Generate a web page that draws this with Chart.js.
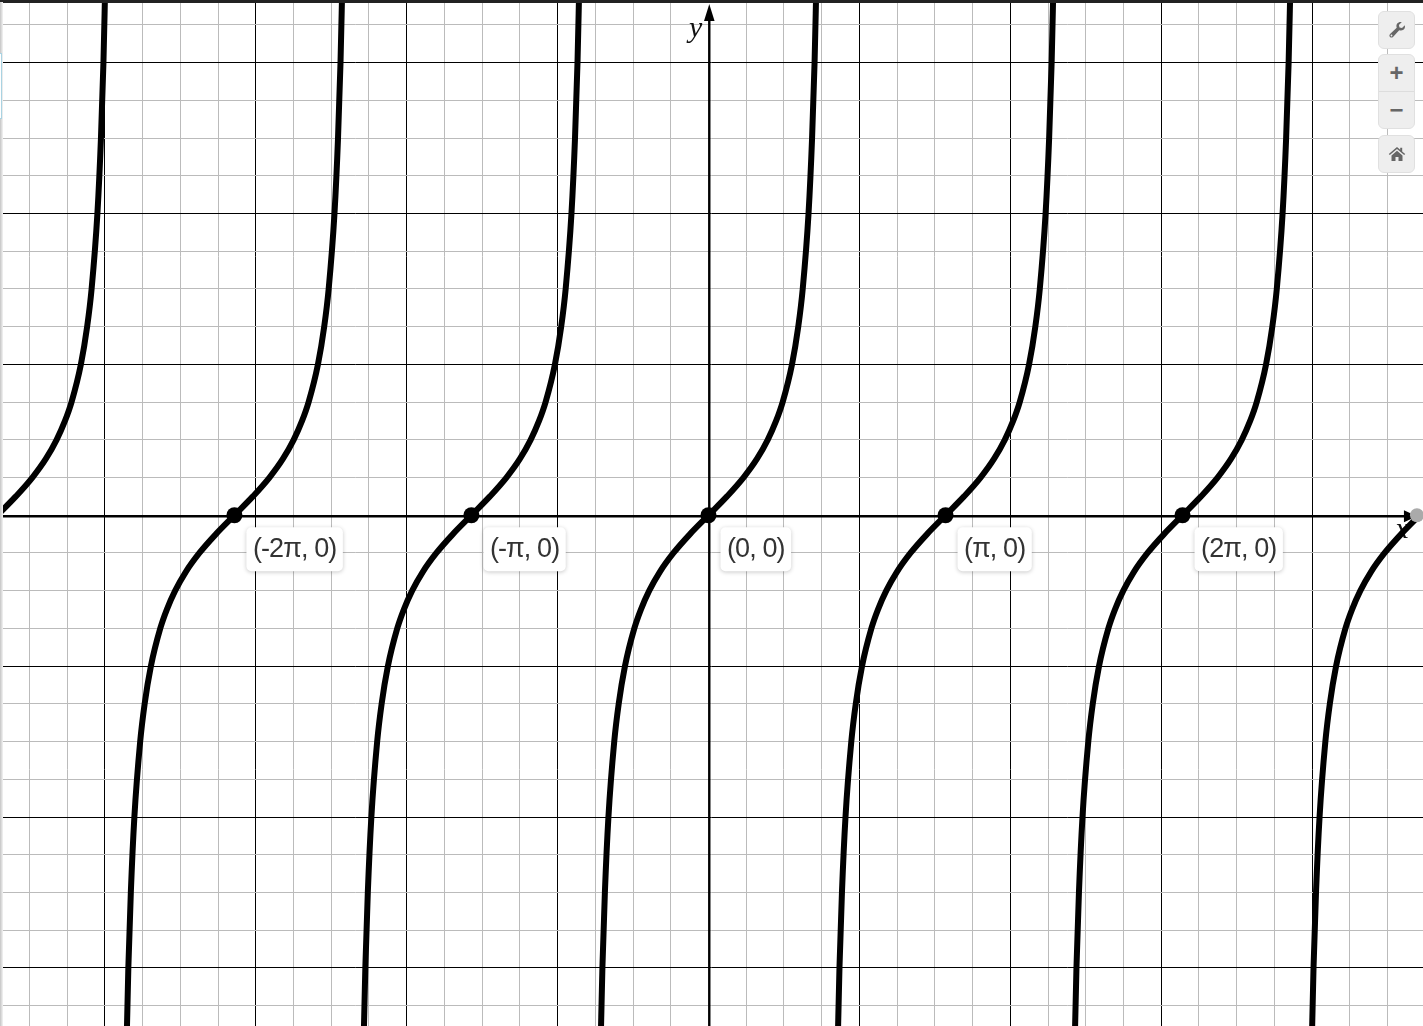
<!DOCTYPE html>
<html><head><meta charset="utf-8">
<script src="https://cdn.jsdelivr.net/npm/chart.js@4"></script>
<style>
html,body{margin:0;padding:0;background:#fff;overflow:hidden;width:1423px;height:1026px}
#wrap{position:relative;width:1423px;height:1026px}
canvas{position:absolute;left:0;top:0;display:block}
#topbar{position:absolute;left:0;top:0;width:1423px;height:2.5px;background:#222}
#leftbar{position:absolute;left:0;top:2px;width:3px;height:1024px;background:linear-gradient(to right,#c4c4c4,#f4f4f4)}
#leftbox{position:absolute;left:0;top:53px;width:1px;height:64px;background:#fff;border:1px solid #a9d3e2;border-left:none}
.btn{position:absolute;left:1378px;width:35px;background:#eee;border:1px solid #e0e0e0;border-radius:6px;box-sizing:content-box;color:#666}
.cell{display:flex;align-items:center;justify-content:center;width:35px;height:36px;font:bold 24px "Liberation Sans";line-height:36px}
.cell+.cell{border-top:1px solid #ddd}
svg{display:block}
</style></head>
<body><div id="wrap">
<canvas id="c" width="1423" height="1026"></canvas>
<div id="topbar"></div><div id="leftbar"></div><div id="leftbox"></div>
<div class="btn" style="top:11px"><div class="cell"><svg width="18" height="18" viewBox="0 0 18 18"><path fill="#666" d="M16.8 4.2c.5 1.9-.1 3.6-1.4 4.6-1.2.9-2.8 1-4.2.5L5 15.9c-.9.9-2.2.9-3 .1s-.8-2.1.1-3l6.6-6.3c-.5-1.4-.4-3 .5-4.2C10.300 1.200 12 .6 13.800 1.100L10.900 4l.6 2.500 2.500.6zM3.500 13.600a.9.9 0 1 0 .9.900.9.900 0 0 0-.9-.9z"/></svg></div></div>
<div class="btn" style="top:54px"><div class="cell">+</div><div class="cell">−</div></div>
<div class="btn" style="top:135px"><div class="cell"><svg width="18" height="16" viewBox="0 0 18 16"><path fill="#666" d="M9 1 .8 8l1 1.100L9 3l7.200 6.100 1-1.100-3-2.600V1.800h-2v1.900zM3.500 9.500 9 4.800l5.500 4.700V15h-4v-4h-3v4h-4z"/></svg></div></div>
</div>
<script>
// Values
const xRange = [-9.39, 9.47];
const yRange = [-6.77, 6.83];
const gridStep = 0.5;
const majorStep = 2;

const halfUpY = [0,0.25,0.5,0.75,1,1.25,1.5,2,2.5,3,4,5,6,7];
const halfDownY = [-7,-6,-5,-4,-3,-2.5,-2,-1.5,-1.25,-1,-0.75,-0.5,-0.25,0];
const fullY = [-7,-6,-5,-4,-3,-2.5,-2,-1.5,-1.25,-1,-0.75,-0.5,-0.25,0,0.25,0.5,0.75,1,1.25,1.5,2,2.5,3,4,5,6,7];

const branchA = [-9.425,-9.180,-8.961,-8.781,-8.640,-8.529,-8.442,-8.318,-8.235,-8.176,-8.099,-8.052,-8.019,-7.996];
const branchB = [-7.712,-7.689,-7.656,-7.609,-7.532,-7.473,-7.390,-7.266,-7.179,-7.068,-6.927,-6.747,-6.528,-6.283,-6.038,-5.819,-5.639,-5.498,-5.387,-5.300,-5.176,-5.093,-5.034,-4.957,-4.910,-4.877,-4.854];
const branchC = [-4.571,-4.548,-4.515,-4.468,-4.391,-4.332,-4.249,-4.125,-4.038,-3.927,-3.786,-3.606,-3.387,-3.142,-2.897,-2.678,-2.498,-2.357,-2.246,-2.159,-2.035,-1.952,-1.893,-1.816,-1.769,-1.736,-1.713];
const branchD = [-1.429,-1.406,-1.373,-1.326,-1.249,-1.190,-1.107,-0.983,-0.896,-0.785,-0.644,-0.464,-0.245,0,0.245,0.464,0.644,0.785,0.896,0.983,1.107,1.190,1.249,1.326,1.373,1.406,1.429];
const branchE = [1.713,1.736,1.769,1.816,1.893,1.952,2.035,2.159,2.246,2.357,2.498,2.678,2.897,3.142,3.387,3.606,3.786,3.927,4.038,4.125,4.249,4.332,4.391,4.468,4.515,4.548,4.571];
const branchF = [4.854,4.877,4.910,4.957,5.034,5.093,5.176,5.300,5.387,5.498,5.639,5.819,6.038,6.283,6.528,6.747,6.927,7.068,7.179,7.266,7.390,7.473,7.532,7.609,7.656,7.689,7.712];
const branchG = [7.996,8.019,8.052,8.099,8.176,8.235,8.318,8.442,8.529,8.640,8.781,8.961,9.180,9.425];

const zeroX = [-6.283,-3.142,0,3.142,6.283];
const zeroY = [0,0,0,0,0];
const zeroLabels = ['(-2π, 0)','(-π, 0)','(0, 0)','(π, 0)','(2π, 0)'];
const handleX = [9.39];
const handleY = [0];

const pairs = (xs, ys) => xs.map((x, i) => ({x, y: ys[i]}));
const curve = (xs, ys) => ({
  type: 'line', data: pairs(xs, ys), borderColor: '#000', borderWidth: 6,
  pointRadius: 0, cubicInterpolationMode: 'monotone', fill: false, order: 3
});

const gridOpts = {
  drawTicks: false,
  color: c => {
    const v = c.tick ? c.tick.value : 1;
    if (Math.abs(v) < 1e-6) return 'rgba(0,0,0,0)';
    if (Math.abs(v % majorStep) < 1e-6) return '#000000';
    return '#bbbbbb';
  },
  lineWidth: 1
};

const decor = {
  id: 'decor',
  beforeDatasetsDraw(chart) {
    const {ctx, chartArea: a, scales: {x, y}} = chart;
    const x0 = x.getPixelForValue(0) + 0.8, y0 = y.getPixelForValue(0) + 1;
    const xe = x.getPixelForValue(handleX[0]);
    ctx.save();
    ctx.fillStyle = '#111';
    ctx.font = 'italic 30px "Liberation Serif"';
    ctx.textAlign = 'center';
    ctx.textBaseline = 'alphabetic';
    ctx.fillText('y', x0 - 13.500, 37);
    ctx.fillText('x', xe - 15, y0 + 22);
    // axes and arrowheads
    ctx.strokeStyle = '#000';
    ctx.lineWidth = 2.4;
    ctx.beginPath();
    ctx.moveTo(a.left, y0); ctx.lineTo(xe - 8, y0);
    ctx.moveTo(x0, a.bottom); ctx.lineTo(x0, 16);
    ctx.stroke();
    ctx.fillStyle = '#000';
    ctx.beginPath(); ctx.moveTo(x0, 4); ctx.lineTo(x0 - 5.300, 21); ctx.lineTo(x0 + 5.300, 21); ctx.closePath(); ctx.fill();
    ctx.beginPath(); ctx.moveTo(xe, y0); ctx.lineTo(xe - 13, y0 - 6); ctx.lineTo(xe - 13, y0 + 6); ctx.closePath(); ctx.fill();
    ctx.restore();
  },
  afterDatasetsDraw(chart) {
    const {ctx, scales: {x, y}} = chart;
    ctx.save();
    ctx.font = '27px "Liberation Sans"';
    ctx.letterSpacing = '-0.9px';
    ctx.textBaseline = 'middle';
    ctx.textAlign = 'left';
    zeroLabels.forEach((t, i) => {
      const px = x.getPixelForValue(zeroX[i]) + 12;
      const py = y.getPixelForValue(zeroY[i]) + 12;
      const w = ctx.measureText(t).width + 13, h = 44;
      ctx.save();
      ctx.shadowColor = 'rgba(0,0,0,0.22)';
      ctx.shadowBlur = 4;
      ctx.shadowOffsetY = 1;
      ctx.fillStyle = '#fff';
      ctx.beginPath(); ctx.roundRect(px, py, w, h, 5); ctx.fill();
      ctx.restore();
      ctx.fillStyle = '#333';
      ctx.fillText(t, px + 6.5, py + h / 2);
    });
    ctx.restore();
  }
};

new Chart(document.getElementById('c'), {
  type: 'line',
  data: {
    datasets: [
      curve(branchA, halfUpY), curve(branchB, fullY), curve(branchC, fullY),
      curve(branchD, fullY), curve(branchE, fullY), curve(branchF, fullY),
      curve(branchG, halfDownY),
      {type: 'scatter', data: pairs(zeroX, zeroY), pointRadius: 8, pointHoverRadius: 8,
       pointBackgroundColor: '#000', pointBorderWidth: 0, showLine: false, order: 2},
      {type: 'scatter', data: pairs(handleX, handleY), pointRadius: 7, pointHoverRadius: 7,
       pointBackgroundColor: '#aaaaaa', pointBorderWidth: 0, showLine: false, order: 1, clip: false}
    ]
  },
  options: {
    responsive: false, animation: false, events: [],
    layout: {padding: 0, autoPadding: false},
    plugins: {legend: {display: false}, tooltip: {enabled: false}, title: {display: false}},
    scales: {
      x: {type: 'linear', min: xRange[0], max: xRange[1],
          border: {display: false}, grid: gridOpts,
          ticks: {display: false, stepSize: gridStep, includeBounds: false}},
      y: {type: 'linear', min: yRange[0], max: yRange[1],
          border: {display: false}, grid: gridOpts,
          ticks: {display: false, stepSize: gridStep, includeBounds: false}}
    }
  },
  plugins: [decor]
});
</script>
</body></html>
